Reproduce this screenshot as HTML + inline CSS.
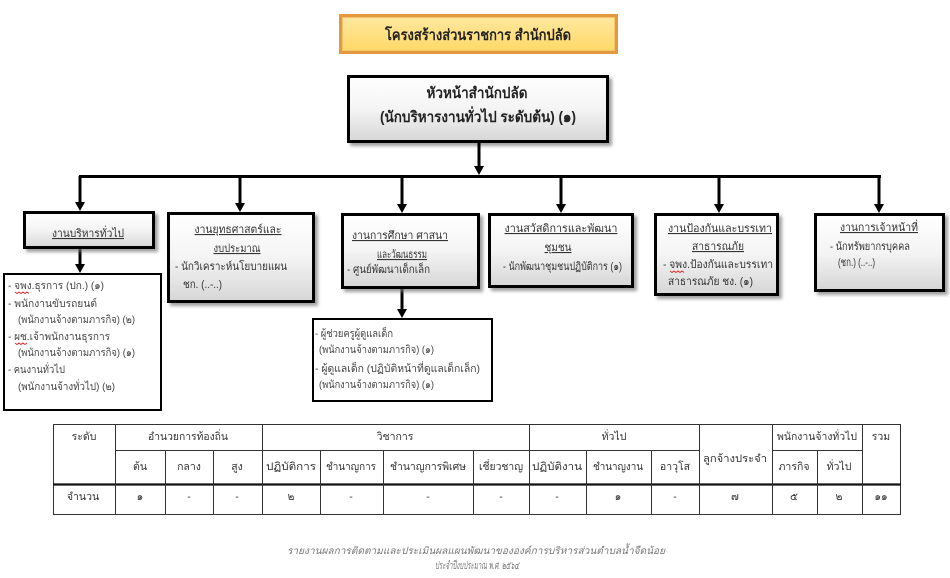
<!DOCTYPE html>
<html><head><meta charset="utf-8">
<style>
html,body{margin:0;padding:0;background:#fff;}
svg{display:block;}
text{font-family:"Liberation Sans","DejaVu Sans",sans-serif;}
</style></head>
<body>
<svg width="950" height="578" viewBox="0 0 950 578" xmlns="http://www.w3.org/2000/svg">
<defs>
<linearGradient id="gb" x1="0" y1="0" x2="0" y2="1">
<stop offset="0" stop-color="#ffffff"/><stop offset="0.5" stop-color="#f4f4f4"/><stop offset="1" stop-color="#d6d6d6"/>
</linearGradient>
<linearGradient id="gt" x1="0" y1="0" x2="0" y2="1">
<stop offset="0" stop-color="#ffe9a2"/><stop offset="1" stop-color="#ffd864"/>
</linearGradient>
<filter id="sh" x="-10%" y="-10%" width="125%" height="130%">
<feDropShadow dx="3" dy="3" stdDeviation="1.6" flood-color="#777" flood-opacity="0.7"/>
</filter>
</defs>

<!-- Title -->
<rect x="340.5" y="15.5" width="276" height="37" fill="url(#gt)" stroke="#e39a3e" stroke-width="3"/>
<rect x="342.5" y="17.5" width="272" height="33" fill="none" stroke="#f6c46a" stroke-width="1"/>
<text x="478" y="40" font-size="15" font-weight="bold" fill="#222" text-anchor="middle" textLength="186" lengthAdjust="spacingAndGlyphs">โครงสร้างส่วนราชการ สำนักปลัด</text>

<!-- Head box -->
<rect x="348.5" y="76.5" width="259" height="65" fill="url(#gb)" stroke="#000" stroke-width="3" filter="url(#sh)"/>
<text x="477" y="98" font-size="15" font-weight="bold" fill="#222" text-anchor="middle" textLength="101" lengthAdjust="spacingAndGlyphs">หัวหน้าสำนักปลัด</text>
<text x="478" y="122" font-size="15" font-weight="bold" fill="#222" text-anchor="middle" textLength="196" lengthAdjust="spacingAndGlyphs">(นักบริหารงานทั่วไป ระดับต้น) (๑)</text>

<!-- Connectors -->
<g stroke="#000" stroke-width="3" fill="none">
<line x1="479" y1="143" x2="479" y2="168"/>
<line x1="79" y1="176.5" x2="881" y2="176.5"/>
<line x1="80" y1="176" x2="80" y2="204"/>
<line x1="240" y1="176" x2="240" y2="205"/>
<line x1="402" y1="176" x2="402" y2="206"/>
<line x1="561" y1="176" x2="561" y2="206"/>
<line x1="719" y1="176" x2="719" y2="206"/>
<line x1="879" y1="176" x2="879" y2="206"/>
<line x1="80" y1="249" x2="80" y2="266"/>
<line x1="402" y1="289" x2="402" y2="311"/>
</g>
<g fill="#000">
<polygon points="474,166 484,166 479,175"/>
<polygon points="75,202 85,202 80,211"/>
<polygon points="235,203 245,203 240,212"/>
<polygon points="397,204 407,204 402,213"/>
<polygon points="556,204 566,204 561,213"/>
<polygon points="714,204 724,204 719,213"/>
<polygon points="874,204 884,204 879,213"/>
<polygon points="75,264 85,264 80,273"/>
<polygon points="397,309 407,309 402,318"/>
</g>

<!-- Main boxes -->
<g fill="url(#gb)" stroke="#000" stroke-width="3" filter="url(#sh)">
<rect x="24.5" y="212.5" width="129" height="35"/>
<rect x="168.5" y="213.5" width="145" height="88"/>
<rect x="342.5" y="214.5" width="136" height="73"/>
<rect x="489.5" y="214.5" width="143" height="72"/>
<rect x="655.5" y="214.5" width="122" height="80"/>
<rect x="815.5" y="214.5" width="128" height="76"/>
</g>

<g font-size="11" fill="#333">
<!-- box1 -->
<text x="88" y="237" text-anchor="middle" text-decoration="underline" textLength="72" lengthAdjust="spacingAndGlyphs">งานบริหารทั่วไป</text>
<!-- box2 -->
<text x="238" y="233" text-anchor="middle" text-decoration="underline" textLength="87" lengthAdjust="spacingAndGlyphs">งานยุทธศาสตร์และ</text>
<text x="237" y="252" text-anchor="middle" text-decoration="underline" textLength="47" lengthAdjust="spacingAndGlyphs">งบประมาณ</text>
<text x="175" y="270" textLength="112" lengthAdjust="spacingAndGlyphs">- นักวิเคราะห์นโยบายแผน</text>
<text x="183" y="288" textLength="39" lengthAdjust="spacingAndGlyphs">ชก. (..-..)</text>
<!-- box3 -->
<text x="400" y="239" text-anchor="middle" text-decoration="underline" textLength="96" lengthAdjust="spacingAndGlyphs">งานการศึกษา ศาสนา</text>
<text x="402" y="258" text-anchor="middle" text-decoration="underline" textLength="50" lengthAdjust="spacingAndGlyphs">และวัฒนธรรม</text>
<text x="347" y="273" textLength="83" lengthAdjust="spacingAndGlyphs">- ศูนย์พัฒนาเด็กเล็ก</text>
<!-- box4 -->
<text x="561" y="232" text-anchor="middle" text-decoration="underline" textLength="113" lengthAdjust="spacingAndGlyphs">งานสวัสดิการและพัฒนา</text>
<text x="558" y="251" text-anchor="middle" text-decoration="underline" textLength="27" lengthAdjust="spacingAndGlyphs">ชุมชน</text>
<text x="503" y="270" textLength="119" lengthAdjust="spacingAndGlyphs">- นักพัฒนาชุมชนปฏิบัติการ (๑)</text>
<!-- box5 -->
<text x="720" y="232" text-anchor="middle" text-decoration="underline" textLength="104" lengthAdjust="spacingAndGlyphs">งานป้องกันและบรรเทา</text>
<text x="718" y="250" text-anchor="middle" text-decoration="underline" textLength="52" lengthAdjust="spacingAndGlyphs">สาธารณภัย</text>
<text x="663" y="268" textLength="110" lengthAdjust="spacingAndGlyphs">- จพง.ป้องกันและบรรเทา</text>
<text x="668" y="285" textLength="85" lengthAdjust="spacingAndGlyphs">สาธารณภัย ชง. (๑)</text>
<!-- box6 -->
<text x="879" y="231" text-anchor="middle" text-decoration="underline" textLength="78" lengthAdjust="spacingAndGlyphs">งานการเจ้าหน้าที่</text>
<text x="830" y="250" textLength="80" lengthAdjust="spacingAndGlyphs">- นักทรัพยากรบุคคล</text>
<text x="838" y="266" textLength="37" lengthAdjust="spacingAndGlyphs">(ชก.) (..-..)</text>
</g>

<!-- Sub boxes -->
<rect x="4" y="274" width="157" height="136" fill="#fff" stroke="#000" stroke-width="2"/>
<rect x="313" y="319" width="179" height="82" fill="#fff" stroke="#000" stroke-width="2"/>

<g font-size="10.5" fill="#444">
<text x="8" y="289" textLength="96" lengthAdjust="spacingAndGlyphs">- จพง.ธุรการ (ปก.) (๑)</text>
<text x="8" y="307" textLength="89" lengthAdjust="spacingAndGlyphs">- พนักงานขับรถยนต์</text>
<text x="18" y="323" textLength="117" lengthAdjust="spacingAndGlyphs">(พนักงานจ้างตามภารกิจ) (๒)</text>
<text x="8" y="340" textLength="102" lengthAdjust="spacingAndGlyphs">- ผช.เจ้าพนักงานธุรการ</text>
<text x="18" y="356" textLength="117" lengthAdjust="spacingAndGlyphs">(พนักงานจ้างตามภารกิจ) (๑)</text>
<text x="8" y="373" textLength="57" lengthAdjust="spacingAndGlyphs">- คนงานทั่วไป</text>
<text x="18" y="390" textLength="97" lengthAdjust="spacingAndGlyphs">(พนักงานจ้างทั่วไป) (๒)</text>

<text x="315" y="337" textLength="78" lengthAdjust="spacingAndGlyphs">- ผู้ช่วยครูผู้ดูแลเด็ก</text>
<text x="319" y="353" textLength="115" lengthAdjust="spacingAndGlyphs">(พนักงานจ้างตามภารกิจ) (๑)</text>
<text x="315" y="372" textLength="165" lengthAdjust="spacingAndGlyphs">- ผู้ดูแลเด็ก (ปฏิบัติหน้าที่ดูแลเด็กเล็ก)</text>
<text x="319" y="388" textLength="115" lengthAdjust="spacingAndGlyphs">(พนักงานจ้างตามภารกิจ) (๑)</text>
</g>
<!-- spellcheck squiggles -->
<g stroke="#d33" stroke-width="1" fill="none">
<path d="M15 292 l2 1.5 l2 -1.5 l2 1.5 l2 -1.5 l2 1.5 l2 -1.5 l2 1.5"/>
<path d="M15 343 l2 1.5 l2 -1.5 l2 1.5 l2 -1.5 l2 1.5 l2 -1.5"/>
<path d="M670 271 l2 1.5 l2 -1.5 l2 1.5 l2 -1.5 l2 1.5 l2 -1.5 l2 1.5"/>
</g>

<!-- Table -->
<g stroke="#333" stroke-width="1" fill="none">
<rect x="53.5" y="424.5" width="847" height="90"/>
<line x1="115" y1="450.5" x2="699" y2="450.5"/>
<line x1="772" y1="450.5" x2="862" y2="450.5"/>
<line x1="53" y1="484.5" x2="901" y2="484.5" stroke-width="2.2" stroke="#111"/>
<line x1="115.5" y1="424" x2="115.5" y2="515"/>
<line x1="262.5" y1="424" x2="262.5" y2="515"/>
<line x1="529.5" y1="424" x2="529.5" y2="515"/>
<line x1="699.5" y1="424" x2="699.5" y2="515"/>
<line x1="772.5" y1="424" x2="772.5" y2="515"/>
<line x1="862.5" y1="424" x2="862.5" y2="515"/>
<line x1="165.5" y1="450" x2="165.5" y2="515"/>
<line x1="213.5" y1="450" x2="213.5" y2="515"/>
<line x1="320.5" y1="450" x2="320.5" y2="515"/>
<line x1="383.5" y1="450" x2="383.5" y2="515"/>
<line x1="473.5" y1="450" x2="473.5" y2="515"/>
<line x1="586.5" y1="450" x2="586.5" y2="515"/>
<line x1="651.5" y1="450" x2="651.5" y2="515"/>
<line x1="817.5" y1="450" x2="817.5" y2="515"/>
</g>
<g font-size="10.5" fill="#333" text-anchor="middle">
<text x="84" y="440">ระดับ</text>
<text x="188" y="440" textLength="80" lengthAdjust="spacingAndGlyphs">อำนวยการท้องถิ่น</text>
<text x="395" y="440">วิชาการ</text>
<text x="614" y="440">ทั่วไป</text>
<text x="735" y="462" textLength="64" lengthAdjust="spacingAndGlyphs">ลูกจ้างประจำ</text>
<text x="817" y="440" textLength="80" lengthAdjust="spacingAndGlyphs">พนักงานจ้างทั่วไป</text>
<text x="881" y="440">รวม</text>

<text x="140" y="470">ต้น</text>
<text x="189" y="470">กลาง</text>
<text x="237" y="470">สูง</text>
<text x="291" y="470" textLength="50" lengthAdjust="spacingAndGlyphs">ปฏิบัติการ</text>
<text x="351" y="470" textLength="50" lengthAdjust="spacingAndGlyphs">ชำนาญการ</text>
<text x="428" y="470" textLength="76" lengthAdjust="spacingAndGlyphs">ชำนาญการพิเศษ</text>
<text x="501" y="470" textLength="44" lengthAdjust="spacingAndGlyphs">เชี่ยวชาญ</text>
<text x="557" y="470" textLength="50" lengthAdjust="spacingAndGlyphs">ปฏิบัติงาน</text>
<text x="618" y="470" textLength="50" lengthAdjust="spacingAndGlyphs">ชำนาญงาน</text>
<text x="675" y="470">อาวุโส</text>
<text x="794" y="470">ภารกิจ</text>
<text x="839" y="470">ทั่วไป</text>

<text x="83" y="500">จำนวน</text>
<text x="140" y="500">๑</text>
<text x="189" y="500">-</text>
<text x="237" y="500">-</text>
<text x="291" y="500">๒</text>
<text x="351" y="500">-</text>
<text x="428" y="500">-</text>
<text x="501" y="500">-</text>
<text x="557" y="500">-</text>
<text x="618" y="500">๑</text>
<text x="675" y="500">-</text>
<text x="735" y="500">๗</text>
<text x="794" y="500">๕</text>
<text x="839" y="500">๒</text>
<text x="881" y="500">๑๑</text>
</g>

<!-- Footer -->
<g font-style="italic" fill="#777" text-anchor="middle">
<text x="476" y="554" font-size="10" textLength="378" lengthAdjust="spacingAndGlyphs">รายงานผลการติดตามและประเมินผลแผนพัฒนาขององค์การบริหารส่วนตำบลน้ำจืดน้อย</text>
<text x="477" y="569" font-size="11" textLength="84" lengthAdjust="spacingAndGlyphs">ประจำปีงบประมาณ พ.ศ. ๒๕๖๔</text>
</g>
</svg>
</body></html>
